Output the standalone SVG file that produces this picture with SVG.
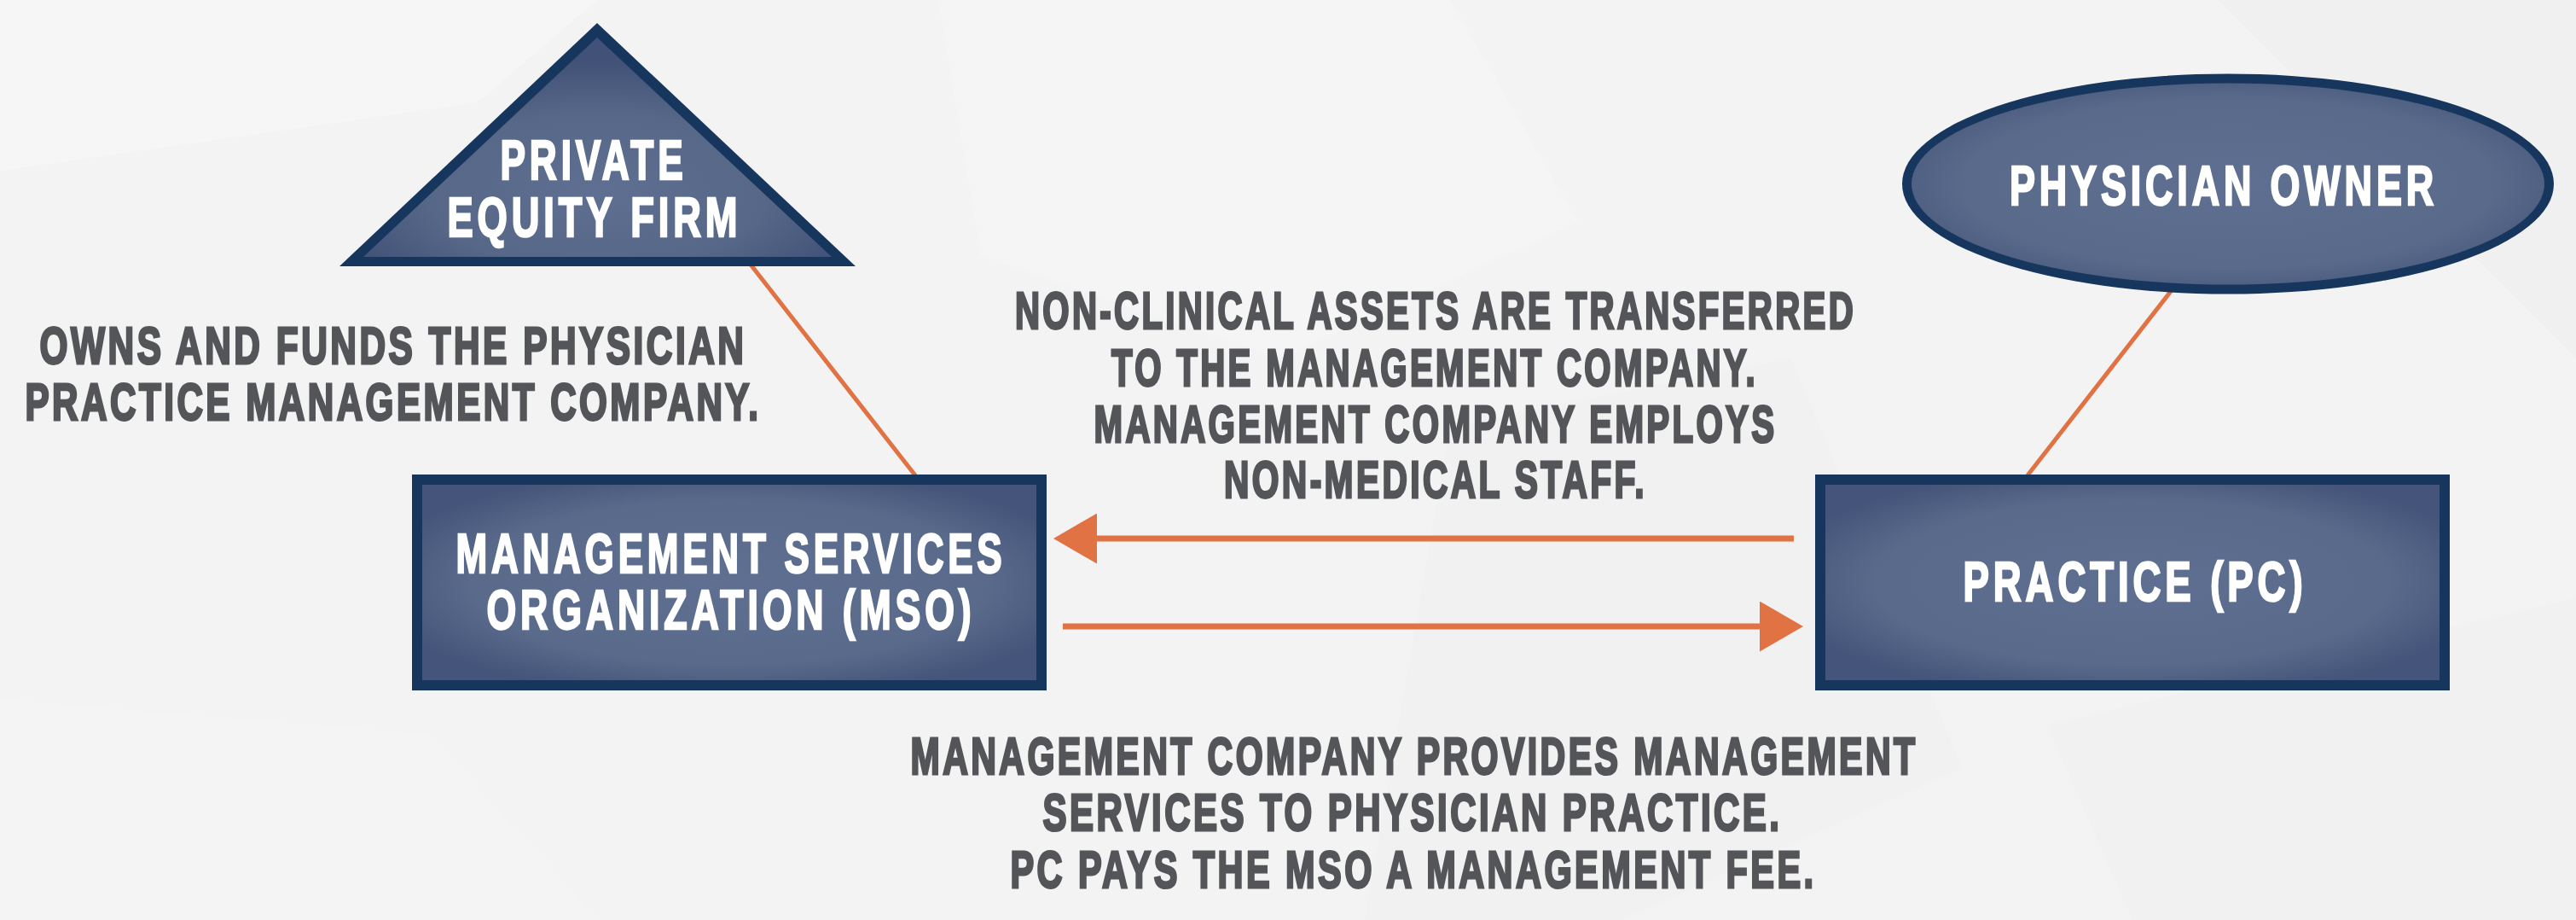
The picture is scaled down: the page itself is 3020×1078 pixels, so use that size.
<svg xmlns="http://www.w3.org/2000/svg" width="3020" height="1078" viewBox="0 0 3020 1078">
<defs>
<style>
.lbl{font-family:"Liberation Sans",Arial,sans-serif;font-weight:700;font-size:61px;letter-spacing:5px;fill:#545559;stroke:#545559;stroke-width:3;text-anchor:middle}
.ntx{font-family:"Liberation Sans",Arial,sans-serif;font-weight:700;font-size:65px;letter-spacing:7px;fill:#ffffff;stroke:#ffffff;stroke-width:2.5;text-anchor:middle}
.border{fill:#17365e}
.conn{stroke:#e07244;stroke-width:5;fill:none}
.arr{stroke:#e07244;stroke-width:7;fill:none}
</style>
<radialGradient id="nodeFill" cx="0.5" cy="0.5" r="0.6">
<stop offset="0" stop-color="#5f6f91"/>
<stop offset="0.7" stop-color="#596a8b"/>
<stop offset="1" stop-color="#44547a"/>
</radialGradient>
<radialGradient id="triFill" cx="0.5" cy="0.7" r="0.6">
<stop offset="0" stop-color="#5f6f91"/>
<stop offset="0.6" stop-color="#566788"/>
<stop offset="1" stop-color="#415177"/>
</radialGradient>
<marker id="head" viewBox="0 0 51 59" refX="0" refY="29.5" markerWidth="51" markerHeight="59" markerUnits="userSpaceOnUse" orient="auto">
<path d="M0,0 L51,29.5 L0,59 Z" fill="#e07244"/>
</marker>
</defs>

<g id="background">
<rect x="0" y="0" width="3020" height="1078" fill="#f3f3f3"/>
<polygon points="0,0 700,0 560,120 0,200" fill="#f6f6f6"/>
<polygon points="2600,0 3020,0 3020,420 2900,300" fill="#eeeeee" opacity="0.6"/>
<polygon points="1100,0 1700,0 1850,260 1500,420 1150,300" fill="#f7f7f7" opacity="0.6"/>
<polygon points="1700,500 2100,420 2300,900 1900,1078 1600,1078" fill="#f0f0f0" opacity="0.5"/>
<polygon points="0,820 500,860 700,1078 0,1078" fill="#f5f5f5" opacity="0.6"/>
<polygon points="2400,850 3020,700 3020,1078 2500,1078" fill="#efefef" opacity="0.5"/>
</g>

<g id="connectors">
<line class="conn" x1="880" y1="310" x2="1073" y2="557"/>
<line class="conn" x1="2546" y1="340" x2="2377" y2="557"/>
<line class="arr" x1="2103" y1="631" x2="1286" y2="631" marker-end="url(#head)"/>
<line class="arr" x1="1246" y1="734" x2="2063" y2="734" marker-end="url(#head)"/>
</g>

<g id="private-equity-firm">
<polygon class="border" points="700,27 398,312 1003,312"/>
<polygon points="700,44 426,301 975,301" fill="url(#triFill)"/>
<text class="ntx" x="696" y="210" textLength="219" lengthAdjust="spacingAndGlyphs">PRIVATE</text>
<text class="ntx" x="697" y="277" textLength="345" lengthAdjust="spacingAndGlyphs">EQUITY FIRM</text>
</g>

<g id="physician-owner">
<ellipse class="border" cx="2612" cy="215.5" rx="382" ry="129"/>
<ellipse cx="2612" cy="215.5" rx="371" ry="118" fill="url(#nodeFill)"/>
<text class="ntx" x="2607" y="240" textLength="502" lengthAdjust="spacingAndGlyphs">PHYSICIAN OWNER</text>
</g>

<g id="mso">
<rect class="border" x="483" y="556" width="744" height="253"/>
<rect x="495" y="568" width="720" height="229" fill="url(#nodeFill)"/>
<text class="ntx" x="857" y="671" textLength="645" lengthAdjust="spacingAndGlyphs">MANAGEMENT SERVICES</text>
<text class="ntx" x="857" y="737" textLength="573" lengthAdjust="spacingAndGlyphs">ORGANIZATION (MSO)</text>
</g>

<g id="practice-pc">
<rect class="border" x="2128" y="556" width="744" height="253"/>
<rect x="2140" y="568" width="720" height="229" fill="url(#nodeFill)"/>
<text class="ntx" x="2503" y="704" textLength="403" lengthAdjust="spacingAndGlyphs">PRACTICE (PC)</text>
</g>

<g id="labels">
<text class="lbl" x="461" y="426" textLength="829" lengthAdjust="spacingAndGlyphs">OWNS AND FUNDS THE PHYSICIAN</text>
<text class="lbl" x="461" y="492" textLength="863" lengthAdjust="spacingAndGlyphs">PRACTICE MANAGEMENT COMPANY.</text>
<text class="lbl" x="1683" y="385" textLength="986" lengthAdjust="spacingAndGlyphs">NON-CLINICAL ASSETS ARE TRANSFERRED</text>
<text class="lbl" x="1682" y="452" textLength="758" lengthAdjust="spacingAndGlyphs">TO THE MANAGEMENT COMPANY.</text>
<text class="lbl" x="1683" y="518" textLength="801" lengthAdjust="spacingAndGlyphs">MANAGEMENT COMPANY EMPLOYS</text>
<text class="lbl" x="1683" y="583" textLength="496" lengthAdjust="spacingAndGlyphs">NON-MEDICAL STAFF.</text>
<text class="lbl" x="1658" y="907" textLength="1181" lengthAdjust="spacingAndGlyphs">MANAGEMENT COMPANY PROVIDES MANAGEMENT</text>
<text class="lbl" x="1656" y="973" textLength="867" lengthAdjust="spacingAndGlyphs">SERVICES TO PHYSICIAN PRACTICE.</text>
<text class="lbl" x="1657" y="1040" textLength="945" lengthAdjust="spacingAndGlyphs">PC PAYS THE MSO A MANAGEMENT FEE.</text>
</g>
</svg>
